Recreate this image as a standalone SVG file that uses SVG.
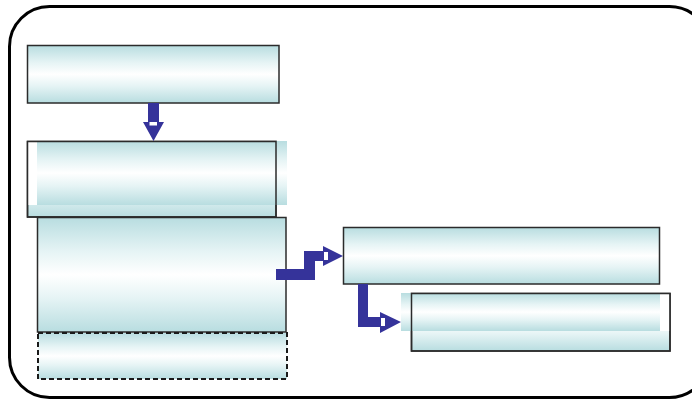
<svg xmlns="http://www.w3.org/2000/svg" width="692" height="401" viewBox="0 0 692 401">
<defs>
<linearGradient id="g" x1="0" y1="0" x2="0" y2="1">
<stop offset="0" stop-color="#b8dde0"/>
<stop offset="0.3" stop-color="#e6f4f5"/>
<stop offset="0.5" stop-color="#ffffff"/>
<stop offset="0.7" stop-color="#e6f4f5"/>
<stop offset="1" stop-color="#b8dde0"/>
</linearGradient>
<style>
.box{fill:url(#g);stroke:#2b2b2b;stroke-width:1.5}
.fill{fill:url(#g);stroke:none}
.edge{fill:none;stroke:#2b2b2b;stroke-width:1.5}
.dash{fill:url(#g);stroke:#1a1a1a;stroke-width:2;stroke-dasharray:5 3}
.arrow{fill:#35339a;stroke:none}
.notch{fill:#ffffff}
</style>
</defs>
<rect width="692" height="401" fill="#ffffff"/>
<rect x="9.5" y="6.5" width="700" height="391" rx="40" ry="40" fill="none" stroke="#000" stroke-width="3"/>
<g id="node1">
<rect class="box" x="27.5" y="45.5" width="251.5" height="57.5"/>
</g>
<g id="node2">
<rect class="box" x="27.5" y="141.5" width="248.5" height="75.5"/>
<rect x="28" y="142" width="9" height="63" fill="#ffffff"/>
<rect class="fill" x="37" y="141" width="250" height="64"/>
<rect class="edge" x="27.5" y="141.5" width="248.5" height="75.5"/>
</g>
<g id="node3">
<rect class="box" x="37.5" y="217.5" width="248.5" height="114.5"/>
</g>
<g id="node4">
<rect class="dash" x="38" y="333" width="249" height="46"/>
</g>
<g id="node5">
<rect class="box" x="343.5" y="227.5" width="316" height="56.5"/>
</g>
<g id="node6">
<rect class="box" x="411.5" y="293.5" width="258.5" height="57.5"/>
<rect class="fill" x="401" y="293" width="259" height="38"/>
<rect x="660" y="294" width="9.5" height="37" fill="#ffffff"/>
<rect class="edge" x="411.5" y="293.5" width="258.5" height="57.5"/>
</g>
<g id="connectors">
<polygon class="arrow" points="148,103 159,103 159,122 164,122 153.5,141 143,122 148,122"/>
<rect class="notch" x="149.5" y="122" width="7.5" height="3.5"/>
<polygon class="arrow" points="276,269 304,269 304,251 323,251 323,246 343,256 323,266 323,261 315,261 315,280 276,280"/>
<rect class="notch" x="324" y="252" width="4" height="8"/>
<polygon class="arrow" points="358,284 368,284 368,317 380,317 380,312 401,322 380,333 380,327 358,327"/>
<rect class="notch" x="381" y="318" width="4" height="8"/>
</g>
</svg>
